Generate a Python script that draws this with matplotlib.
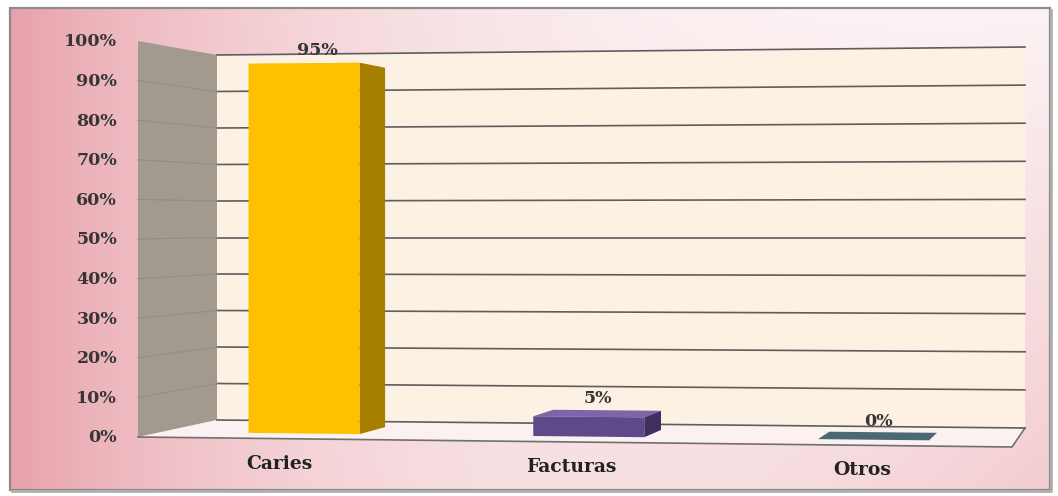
import numpy as np
import matplotlib
matplotlib.use('Agg')
import matplotlib.pyplot as plt
from matplotlib.patches import Polygon, Rectangle
from matplotlib.colors import to_rgb

# Datos
categorias = ['Caries', 'Facturas', 'Otros']
valores = [95, 5, 0]
etiquetas = ['95%', '5%', '0%']
ticks = [0, 10, 20, 30, 40, 50, 60, 70, 80, 90, 100]
tick_labels = ['0%', '10%', '20%', '30%', '40%', '50%', '60%', '70%', '80%', '90%', '100%']

color_frente = ['#FFC000', '#5E4A8A', '#4A6A73']
color_lado = ['#A77F00', '#3D2F5E', '#34505A']
color_tapa = ['#FFD24D', '#7A66A8', '#4A6A73']

# Planos delantero y trasero de la caja 3D (en pixeles de la figura)
FRENTE = dict(x0=138, x1=1012, b0=437, b1=447, t0=41, t1=32)
FONDO = dict(x0=217, x1=1025, b0=420, b1=428, t0=55, t1=47)


def plano(p, u, v):
    x = p['x0'] + (p['x1'] - p['x0']) * u
    b = p['b0'] + (p['b1'] - p['b0']) * u
    t = p['t0'] + (p['t1'] - p['t0']) * u
    return x, b + (t - b) * v / 100.0


def proj(u, d, v):
    xf, yf = plano(FRENTE, u, v)
    xb, yb = plano(FONDO, u, v)
    return xf + (xb - xf) * d, yf + (yb - yf) * d


W, H = 1058, 496
fig = plt.figure(figsize=(W / 100, H / 100), dpi=100)
ax = fig.add_axes([0, 0, 1, 1])
ax.set_xlim(0, W)
ax.set_ylim(H, 0)
ax.axis('off')

# Fondo rosado con degradado
X, Y = np.meshgrid(np.linspace(0, 1, 400), np.linspace(0, 1, 200))
w = 0.75 * (1 - X) ** 3 + 0.35 * X ** 2 * Y + 0.12
w = np.clip(w, 0, 1)[..., None]
rosa = np.array(to_rgb('#E5949E'))
img = (1 - w) * np.ones(3) + w * rosa
ax.imshow(img, extent=(10, 1050, 490, 8), aspect='auto', zorder=0)
ax.add_patch(Rectangle((10, 8), 1040, 482, fill=False, ec='#8c8c8c', lw=1.6, zorder=1))
ax.plot([12, 1051, 1051], [491, 491, 10], color='#b0b0b0', lw=2, zorder=1)

# Paredes y piso
fondo = [proj(0, 1, 0), proj(1, 1, 0), proj(1, 1, 100), proj(0, 1, 100)]
ax.add_patch(Polygon(fondo, closed=True, fc='#FCF1E2', ec='none', zorder=2))
pared = [proj(0, 0, 0), proj(0, 1, 0), proj(0, 1, 100), proj(0, 0, 100)]
ax.add_patch(Polygon(pared, closed=True, fc='#A2998F', ec='none', zorder=2))
piso = [proj(0, 0, 0), proj(1, 0, 0), proj(1, 1, 0), proj(0, 1, 0)]
ax.add_patch(Polygon(piso, closed=True, fc='#FBF1F0', ec='none', zorder=2))
ax.plot(*zip(proj(0, 0, 0), proj(1, 0, 0), proj(1, 1, 0)), color='#707070', lw=1.2, zorder=3)

# Lineas de division
for v, lab in zip(ticks, tick_labels):
    ax.plot(*zip(proj(0, 1, v), proj(1, 1, v)), color='#5e5e5e', lw=1.2, zorder=3)
    if 0 < v < 100:
        ax.plot(*zip(proj(0, 0, v), proj(0, 1, v)), color='#958d86', lw=0.9, zorder=3)
    x, y = proj(0, 0, v)
    ax.text(x - 21, y + 1, lab, ha='right', va='center',
            fontsize=12.5, fontweight='bold', family='DejaVu Serif', color='#363636', zorder=5)

# Barras
n = len(categorias)
for i, (cat, val) in enumerate(zip(categorias, valores)):
    uc = (i + 0.5) / n
    u0, u1 = uc - 0.065, uc + 0.065
    d0, d1 = 0.3, 0.7
    tapa = [proj(u0, d0, val), proj(u1, d0, val), proj(u1, d1, val), proj(u0, d1, val)]
    lado = [proj(u1, d0, 0), proj(u1, d1, 0), proj(u1, d1, val), proj(u1, d0, val)]
    frente = [proj(u0, d0, 0), proj(u1, d0, 0), proj(u1, d0, val), proj(u0, d0, val)]
    ax.add_patch(Polygon(tapa, closed=True, fc=color_tapa[i], ec='none', zorder=4))
    ax.add_patch(Polygon(lado, closed=True, fc=color_lado[i], ec='none', zorder=4))
    ax.add_patch(Polygon(frente, closed=True, fc=color_frente[i], ec='none', zorder=4))

    x, y = proj(uc, 0.5, val)
    ax.text(x, y - 15, etiquetas[i], ha='center', va='center', fontsize=12.5,
            fontweight='bold', family='DejaVu Serif', color='#363636', zorder=5)
    x, y = proj(uc, 0, 0)
    ax.text(x - 4, y + 25, cat, ha='center', va='center', fontsize=13.5,
            fontweight='bold', family='DejaVu Serif', color='#222222', zorder=5)

fig.savefig('out.png', dpi=100)
